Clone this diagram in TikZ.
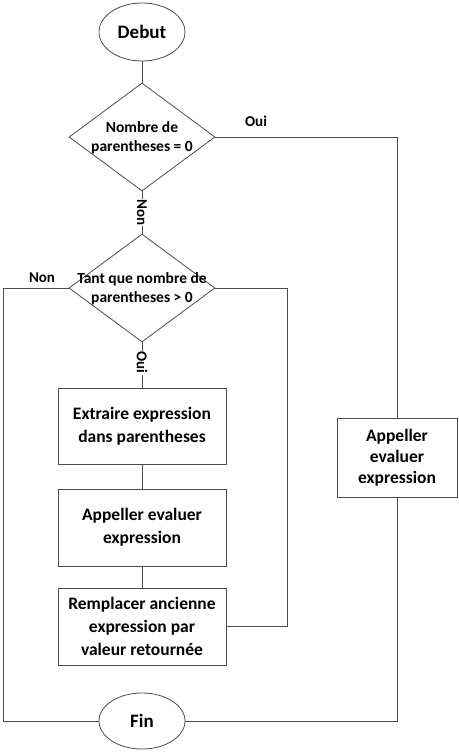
\documentclass[tikz,border=0pt]{standalone}
\usepackage{fontspec}
\setmainfont{Carlito}
\usetikzlibrary{shapes.geometric}
\begin{document}
\begin{tikzpicture}[x=1pt,y=-1pt,
  conn/.style={draw=black!70,line width=0.8pt},
  term/.style={ellipse,draw=black!70,line width=0.8pt,minimum width=86pt,minimum height=58pt,inner sep=0pt,font=\bfseries\fontsize{19}{22}\selectfont},
  dec/.style={diamond,draw=black!70,line width=0.8pt,minimum width=146pt,minimum height=108pt,inner sep=0pt},
  dectext/.style={align=center,font=\bfseries\fontsize{15.5}{19}\selectfont,inner sep=0pt},
  proc/.style={rectangle,draw=black!70,line width=0.8pt,align=center,inner sep=0pt,font=\bfseries\fontsize{17.5}{23}\selectfont},
  lab/.style={font=\bfseries\fontsize{15}{17}\selectfont,inner sep=1pt}
]
\useasboundingbox (0,0) rectangle (458,752);
\node[term] (deb) at (142,32) {Debut};
\node[dec] (d1) at (142,137) {};
\node[dectext] (t1) at (142,138) {Nombre de\\parentheses = 0};
\node[dec] (d2) at (142,288) {};
\node[dectext] (t2) at (142,289) {Tant que nombre de\\parentheses > 0};
\node[proc,minimum width=168pt,minimum height=76pt] (b1) at (142,426) {Extraire expression\\dans parentheses};
\node[proc,minimum width=168pt,minimum height=77pt] (b2) at (142,527.5) {Appeller evaluer\\expression};
\node[proc,minimum width=168pt,minimum height=77pt] (b3) at (142,626.5) {Remplacer ancienne\\expression par\\valeur retournée};
\node[proc,minimum width=120pt,minimum height=79pt,font=\bfseries\fontsize{17.5}{21}\selectfont] (rb) at (397,457.5) {Appeller\\evaluer\\expression};
\node[term,minimum height=56pt] (fin) at (142,721) {Fin};

\coordinate (c1) at (397,137);
\coordinate (c2) at (287,288);
\coordinate (c3) at (3,288);

\draw[conn] (deb) -- (d1.north);
\draw[conn] (d1.south) -- (d2.north) node[midway,fill=white,lab,rotate=-90] (lnon) {Non};
\draw[conn] (d1.east) -- (c1) -- (rb.north);
\node[lab] (loui) at (256,121) {Oui};
\draw[conn] (d2.south) -- (b1.north) node[pos=0.45,fill=white,lab,rotate=-90] (loui2) {Oui};
\draw[conn] (b1) -- (b2);
\draw[conn] (b2) -- (b3);
\draw[conn] (d2.east) -- (c2) |- (b3.east);
\draw[conn] (d2.west) -- (c3) |- (fin.west);
\node[lab] (lnon2) at (42,278) {Non};
\draw[conn] (rb.south) |- (fin.east);
\end{tikzpicture}
\end{document}
